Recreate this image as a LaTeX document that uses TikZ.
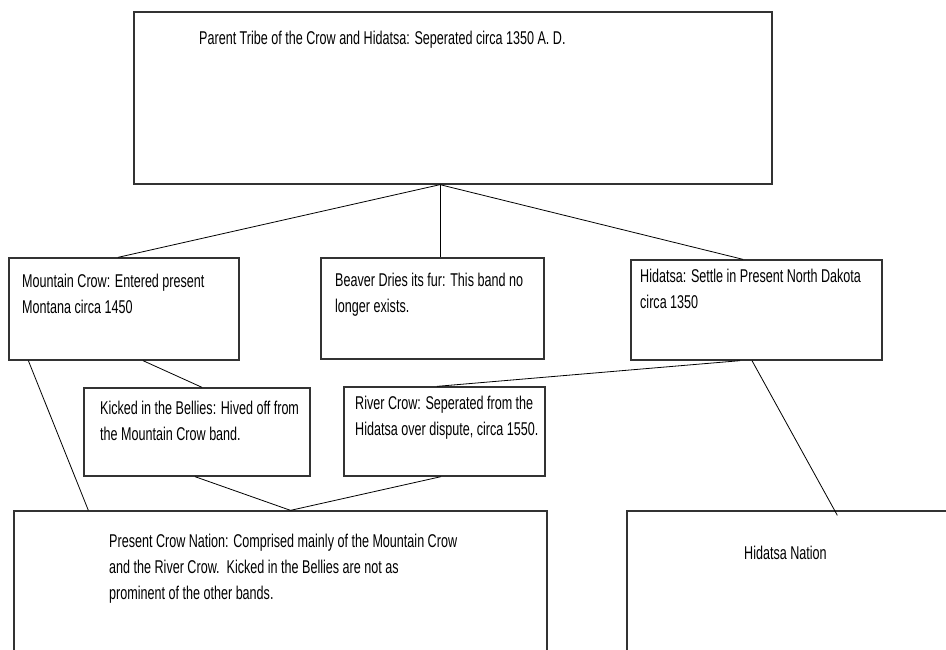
\documentclass[tikz,border=0pt]{standalone}
\usepackage{fontspec}
\setmainfont{Liberation Sans}[FakeStretch=0.68]
\usepackage{tikz}
\usetikzlibrary{positioning, calc}
\tikzset{
    band/.style={rectangle, draw=black!80, line width=1.3pt, inner sep=0pt},
    note/.style={anchor=north west, inner sep=0pt, align=left, font=\fontsize{18.5}{26}\selectfont},
    link/.style={line width=0.8pt, black}
}

\begin{document}
\begin{tikzpicture}[x=1pt, y=-1pt]
    \useasboundingbox (0,0) rectangle (946,649);
    \clip (0,0) rectangle (946,649);

    % Parent tribe
    \node[band, minimum width=638pt, minimum height=172pt] (parent) at (453, 98) {};
    \node[note] (parenttxt) at (199, 31) {Parent Tribe of the Crow and Hidatsa: Seperated circa 1350 A. D.};

    % Bands
    \node[band, minimum width=230pt, minimum height=102pt] (mc) at (124, 309) {};
    \node[note] (mctxt) at (22, 274) {Mountain Crow: Entered present\\Montana circa 1450};

    \node[band, minimum width=223pt, minimum height=101pt] (beaver) at (432.5, 308.5) {};
    \node[note] (beavertxt) at (335, 273) {Beaver Dries its fur: This band no\\longer exists.};

    \node[band, minimum width=251pt, minimum height=100pt] (hid) at (756.5, 310) {};
    \node[note] (hidtxt) at (640, 269) {Hidatsa: Settle in Present North Dakota\\circa 1350};

    % Split bands
    \node[band, minimum width=226pt, minimum height=88pt] (kick) at (197, 432) {};
    \node[note] (kicktxt) at (100, 401) {Kicked in the Bellies: Hived off from\\the Mountain Crow band.};

    \node[band, minimum width=201pt, minimum height=89pt] (river) at (444.5, 431.5) {};
    \node[note] (rivertxt) at (355, 396) {River Crow: Seperated from the\\Hidatsa over dispute, circa 1550.};

    % Nations
    \node[band, minimum width=533pt, minimum height=169pt] (pcn) at (280.5, 595.5) {};
    \node[note] (pcntxt) at (109, 534) {Present Crow Nation: Comprised mainly of the Mountain Crow\\and the River Crow.\ \ Kicked in the Bellies are not as\\prominent of the other bands.};

    \node[band, minimum width=353pt, minimum height=169pt] (hnat) at (803.5, 595.5) {};
    \node[note] (hnattxt) at (744, 546) {Hidatsa Nation};

    % Connections
    \coordinate (pfork) at ([xshift=-13pt]parent.south);
    \coordinate (cfork) at ([xshift=10pt]pcn.north);
    \draw[link] (pfork) -- ([xshift=-6pt]mc.north);
    \draw[link] (pfork) -- (pfork |- beaver.north);
    \draw[link] (pfork) -- ([xshift=-13.5pt]hid.north);
    \draw[link] ([xshift=20pt]mc.south west) -- ([xshift=75pt]pcn.north west);
    \draw[link] ([xshift=19pt]mc.south) -- ([xshift=5pt]kick.north);
    \draw[link] ([xshift=-16.5pt]hid.south) -- ([xshift=-7.5pt]river.north);
    \draw[link] ([xshift=-4.5pt]hid.south) -- ([xshift=211pt,yshift=-5pt]hnat.north west);
    \draw[link] ([xshift=-2pt]kick.south) -- (cfork);
    \draw[link] ([xshift=-3.5pt]river.south) -- (cfork);
\end{tikzpicture}
\end{document}
